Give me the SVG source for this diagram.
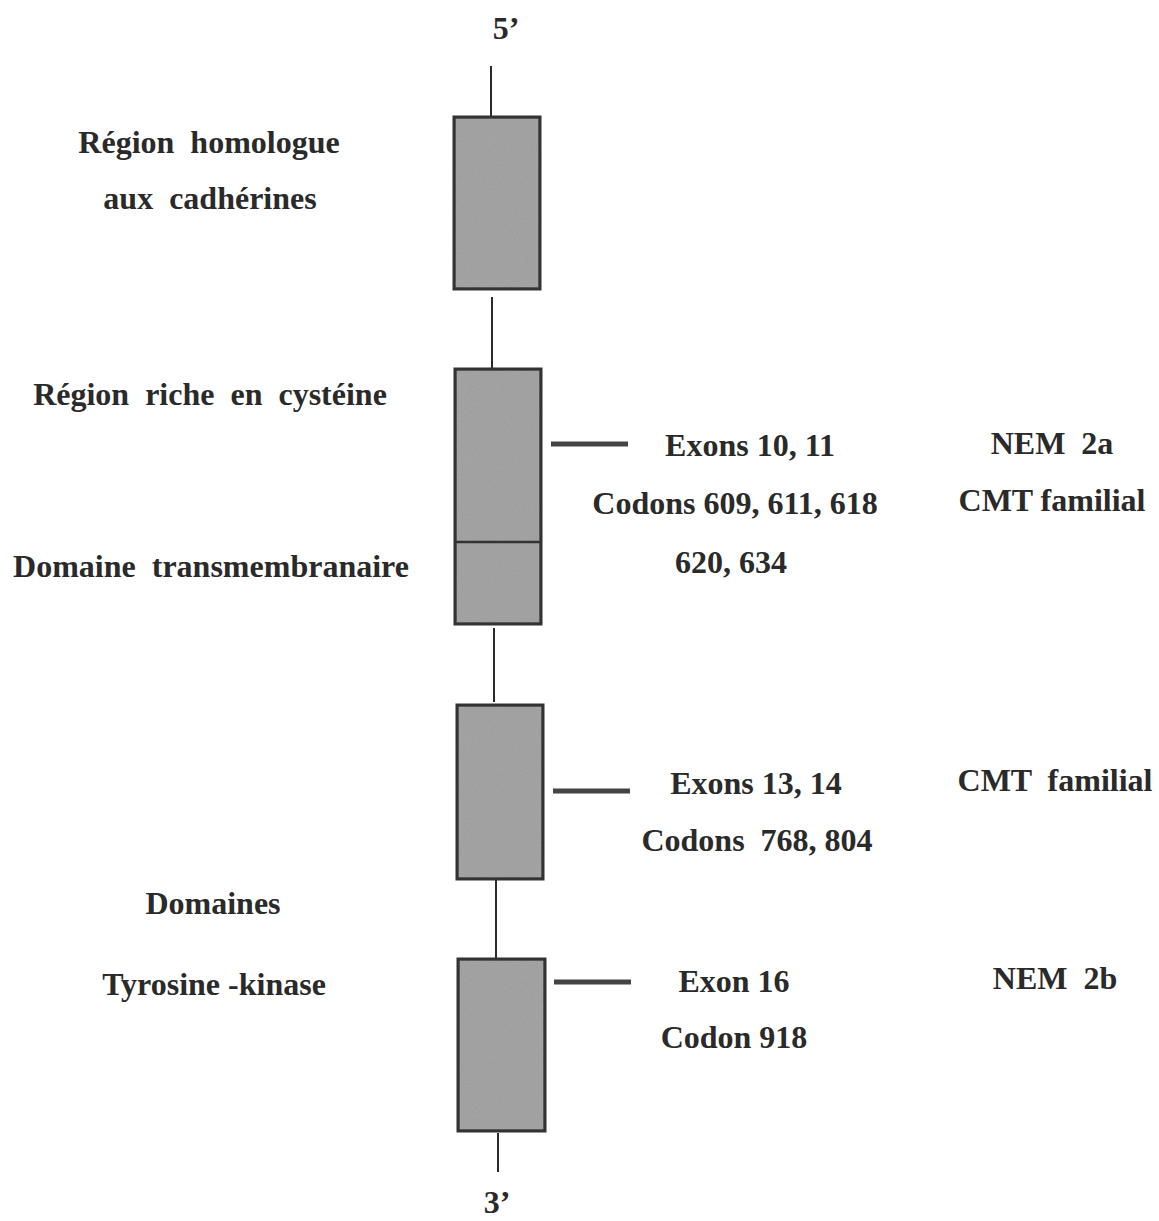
<svg xmlns="http://www.w3.org/2000/svg" width="1159" height="1221" viewBox="0 0 1159 1221">
<style>
.t{font-family:"Liberation Serif","Times New Roman",serif;font-weight:bold;font-size:32px;fill:#2a2a2a;white-space:pre;text-anchor:middle}
.box{fill:#9b9b9b;stroke:#333;stroke-width:3}
.ln{stroke:#2a2a2a;stroke-width:2;fill:none}
.tick{stroke:#444;stroke-width:5;fill:none}
</style>
<defs>
<filter id="grain" x="0" y="0" width="100%" height="100%">
<feTurbulence type="fractalNoise" baseFrequency="0.9" numOctaves="2" seed="3" result="n"/>
<feColorMatrix in="n" type="matrix" values="0 0 0 0 0.5  0 0 0 0 0.5  0 0 0 0 0.5  0 0 0 0.35 0" result="g"/>
<feComposite in="g" in2="SourceGraphic" operator="atop"/>
</filter>
</defs>
<rect width="1159" height="1221" fill="#ffffff"/>
<g id="connectors">
<line class="ln" x1="491" y1="66" x2="491" y2="125"/>
<line class="ln" x1="492" y1="297" x2="492" y2="375"/>
<line class="ln" x1="494" y1="628" x2="494" y2="702"/>
<line class="ln" x1="496" y1="879" x2="496" y2="970"/>
<line class="ln" x1="498" y1="1133" x2="498" y2="1172"/>
<line class="tick" x1="551" y1="444" x2="628" y2="444"/>
<line class="tick" x1="553" y1="791" x2="630" y2="791"/>
<line class="tick" x1="554" y1="982" x2="631" y2="982"/>
</g>
<g id="end5"><text class="t" x="506" y="39">5’</text></g>
<g id="end3"><text class="t" x="497" y="1213">3’</text></g>
<g id="box1"><rect class="box" x="454" y="117" width="86" height="172" filter="url(#grain)"/><rect class="box" x="454" y="117" width="86" height="172" fill="none" style="fill:none"/></g>
<g id="box2"><rect class="box" x="455" y="369" width="86" height="255" filter="url(#grain)"/><rect class="box" x="455" y="369" width="86" height="255" style="fill:none"/><line x1="455" y1="542" x2="541" y2="542" stroke="#333" stroke-width="2.5"/></g>
<g id="box3"><rect class="box" x="457" y="705" width="86" height="174" filter="url(#grain)"/><rect class="box" x="457" y="705" width="86" height="174" style="fill:none"/></g>
<g id="box4"><rect class="box" x="458" y="959" width="87" height="172" filter="url(#grain)"/><rect class="box" x="458" y="959" width="87" height="172" style="fill:none"/></g>
<g id="label-cadherine"><text class="t" x="209" y="153">Région  homologue</text><text class="t" x="210" y="209">aux  cadhérines</text></g>
<g id="label-cysteine"><text class="t" x="210" y="405">Région  riche  en  cystéine</text></g>
<g id="label-tm"><text class="t" x="211" y="577">Domaine  transmembranaire</text></g>
<g id="label-tk"><text class="t" x="213" y="914">Domaines</text><text class="t" x="214" y="995">Tyrosine -kinase</text></g>
<g id="mut1"><text class="t" x="750" y="456">Exons 10, 11</text><text class="t" x="735" y="514">Codons 609, 611, 618</text><text class="t" x="731" y="573">620, 634</text></g>
<g id="dis1"><text class="t" x="1052" y="454">NEM  2a</text><text class="t" x="1052" y="511">CMT familial</text></g>
<g id="mut2"><text class="t" x="756" y="794">Exons 13, 14</text><text class="t" x="757" y="851">Codons  768, 804</text></g>
<g id="dis2"><text class="t" x="1055" y="791">CMT  familial</text></g>
<g id="mut3"><text class="t" x="734" y="992">Exon 16</text><text class="t" x="734" y="1048">Codon 918</text></g>
<g id="dis3"><text class="t" x="1055" y="989">NEM  2b</text></g>
</svg>
